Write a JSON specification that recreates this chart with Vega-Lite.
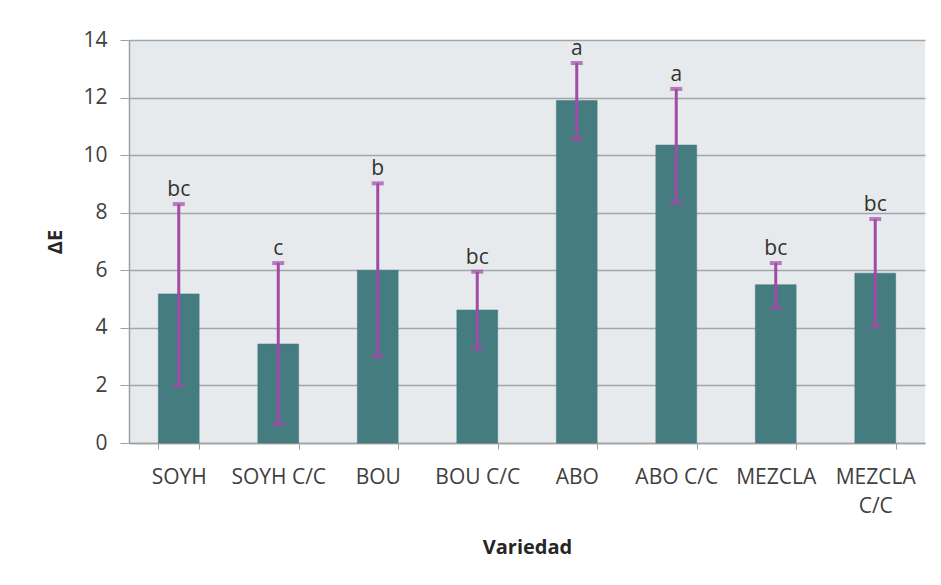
{
  "$schema": "https://vega.github.io/schema/vega-lite/v6.json",
  "autosize": "none",
  "width": 796,
  "height": 403,
  "padding": {"left": 129, "top": 40, "right": 16, "bottom": 142},
  "background": "white",
  "config": {
    "font": "Open Sans",
    "view": {"fill": "#e7eaec", "stroke": null}
  },
  "data": {
    "values": [
      {"variedad": "SOYH", "media": 5.18, "lo": 2.0, "hi": 8.3, "letra": "bc"},
      {"variedad": "SOYH C/C", "media": 3.44, "lo": 0.65, "hi": 6.25, "letra": "c"},
      {"variedad": "BOU", "media": 6.0, "lo": 3.0, "hi": 9.02, "letra": "b"},
      {"variedad": "BOU C/C", "media": 4.62, "lo": 3.28, "hi": 5.95, "letra": "bc"},
      {"variedad": "ABO", "media": 11.9, "lo": 10.55, "hi": 13.2, "letra": "a"},
      {"variedad": "ABO C/C", "media": 10.35, "lo": 8.35, "hi": 12.3, "letra": "a"},
      {"variedad": "MEZCLA", "media": 5.5, "lo": 4.7, "hi": 6.25, "letra": "bc"},
      {"variedad": "MEZCLA C/C", "media": 5.9, "lo": 4.05, "hi": 7.78, "letra": "bc"}
    ]
  },
  "encoding": {
    "x": {
      "field": "variedad",
      "type": "nominal",
      "sort": null,
      "scale": {"paddingInner": 0.59, "paddingOuter": 0.295},
      "axis": {
        "title": "Variedad",
        "titleFont": "Open Sans",
        "titleFontSize": 20,
        "titleFontWeight": "bold",
        "titleColor": "#262626",
        "titlePadding": 21,
        "labelAngle": 0,
        "labelFontSize": 21,
        "labelColor": "#404040",
        "labelPadding": 17,
        "labelLineHeight": 29,
        "labelExpr": "datum.label == 'MEZCLA C/C' ? ['MEZCLA', 'C/C'] : datum.label",
        "tickBand": "extent",
        "tickSize": 6,
        "tickColor": "#a0a0a0",
        "domainColor": "#a0a0a0",
        "domainWidth": 1.5,
        "grid": false
      }
    }
  },
  "layer": [
    {
      "mark": {"type": "bar", "color": "#447c80", "stroke": "#3f7478", "strokeWidth": 0.5},
      "encoding": {
        "y": {
          "field": "media",
          "type": "quantitative",
          "scale": {"domain": [0, 14], "nice": false},
          "axis": {
            "title": "ΔE",
            "titleFont": "Open Sans",
            "titleFontSize": 20,
            "titleFontWeight": "bold",
            "titleColor": "#262626",
            "titlePadding": 17,
            "values": [0, 2, 4, 6, 8, 10, 12, 14],
            "labelFontSize": 21,
            "labelColor": "#404040",
            "labelPadding": 13,
            "tickSize": 9,
            "tickColor": "#a0a0a0",
            "domainColor": "#a0a0a0",
            "domainWidth": 1.5,
            "gridColor": "#a3a6a8",
            "gridWidth": 1.5
          }
        }
      }
    },
    {
      "mark": {"type": "rule", "color": "#a24aa8", "strokeWidth": 3},
      "encoding": {
        "y": {"field": "lo", "type": "quantitative"},
        "y2": {"field": "hi"}
      }
    },
    {
      "mark": {"type": "tick", "color": "#a24aa8", "size": 12, "thickness": 4},
      "encoding": {"y": {"field": "lo", "type": "quantitative"}}
    },
    {
      "mark": {"type": "tick", "color": "#a24aa8", "size": 12, "thickness": 4},
      "encoding": {"y": {"field": "hi", "type": "quantitative"}}
    },
    {
      "mark": {"type": "text", "fontSize": 21, "color": "#333333", "baseline": "alphabetic", "dy": -8},
      "encoding": {
        "y": {"field": "hi", "type": "quantitative"},
        "text": {"field": "letra"}
      }
    }
  ]
}
